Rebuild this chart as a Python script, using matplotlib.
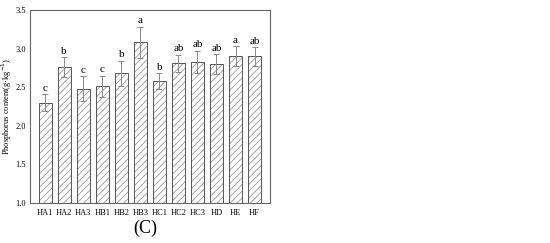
import numpy as np
import matplotlib.pyplot as plt

plt.rcParams['font.family'] = ['Liberation Serif', 'DejaVu Serif']
plt.rcParams['hatch.linewidth'] = 0.6

groups = ['HA1', 'HA2', 'HA3', 'HB1', 'HB2', 'HB3', 'HC1', 'HC2', 'HC3', 'HD', 'HE', 'HF']
values = [2.30, 2.76, 2.48, 2.51, 2.68, 3.08, 2.58, 2.81, 2.83, 2.80, 2.90, 2.90]
errors = [0.11, 0.13, 0.16, 0.14, 0.16, 0.20, 0.10, 0.11, 0.14, 0.13, 0.13, 0.12]
letters = ['c', 'b', 'c', 'c', 'b', 'a', 'b', 'ab', 'ab', 'ab', 'a', 'ab']

fig = plt.figure(figsize=(5.5, 2.43), dpi=100)
ax = fig.add_axes([0.0545, 0.1646, 0.436, 0.794])

x = np.arange(len(groups))
heights = np.array(values) - 1.0
# hatch layer in light grey, outline drawn on top
ax.bar(x, heights, bottom=1.0, width=0.68, color='white',
       edgecolor='#999999', linewidth=0, hatch='/////')
ax.bar(x, heights, bottom=1.0, width=0.68, fill=False,
       edgecolor='#555555', linewidth=0.7)
ax.errorbar(x, values, yerr=errors, fmt='none', ecolor='#888888',
            elinewidth=0.7, capsize=2, capthick=0.7)
for xi, v, e, lab in zip(x, values, errors, letters):
    ax.text(xi, v + e + 0.02, lab, ha='center', va='bottom', fontsize=8)

ax.set_xlim(-0.8, 11.8)
ax.set_ylim(1.0, 3.5)
ax.set_yticks([1.0, 1.5, 2.0, 2.5, 3.0, 3.5])
ax.set_xticks(x)
ax.set_xticklabels(groups)
ax.tick_params(axis='both', labelsize=6, length=0, pad=3)
ax.tick_params(axis='x', pad=4)
for s in ax.spines.values():
    s.set_color('#666666')
    s.set_linewidth(0.8)
ax.set_ylabel('Phosphorus content(g·kg$^{-1}$)', fontsize=6)
ax.yaxis.set_label_coords(-0.068, 0.5)

fig.text(0.265, 0.06, '(C)', ha='center', va='center', fontsize=13)

fig.savefig('out.png', dpi=100)
